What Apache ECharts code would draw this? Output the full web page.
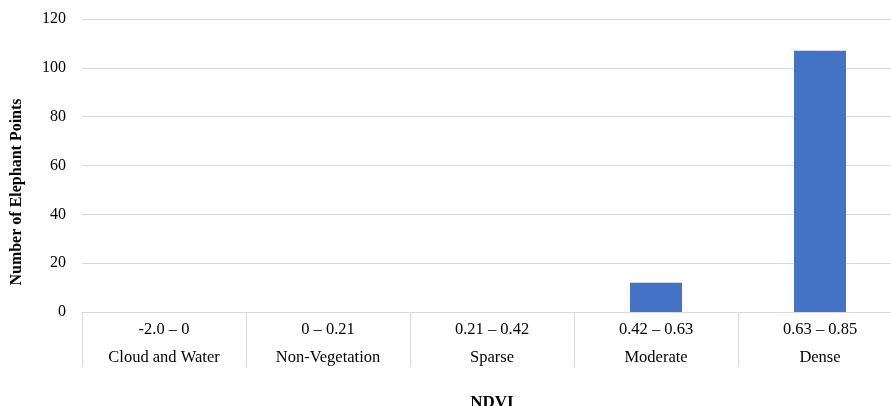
<!DOCTYPE html>
<html>
<head>
<meta charset="utf-8">
<script src="https://cdn.jsdelivr.net/npm/echarts@6/dist/echarts.min.js"></script>
<style>
html,body{margin:0;padding:0;background:#fff;}
#chart{width:891px;height:406px;}
</style>
</head>
<body>
<div id="chart"></div>
<script>
const ranges = ['-2.0 \u2013 0', '0 \u2013 0.21', '0.21 \u2013 0.42', '0.42 \u2013 0.63', '0.63 \u2013 0.85'];
const classes = ['Cloud and Water', 'Non-Vegetation', 'Sparse', 'Moderate', 'Dense'];
const counts = [0, 0, 0, 12, 107];
const yTicks = { min: 0, max: 120, interval: 20 };

const categories = ranges.map((r, i) => r + '\n' + classes[i]);
const font = 'Liberation Serif, Times New Roman, serif';

const chart = echarts.init(document.getElementById('chart'), null, { renderer: 'canvas' });
chart.setOption({
  animation: false,
  backgroundColor: '#fff',
  grid: { left: 82, top: 19, width: 820, height: 293, containLabel: false, outerBoundsMode: 'none' },
  xAxis: {
    type: 'category',
    data: categories,
    boundaryGap: true,
    name: 'NDVI',
    nameLocation: 'middle',
    nameGap: 82,
    nameTextStyle: { fontFamily: font, fontSize: 17, fontWeight: 'bold', color: '#000' },
    axisLine: { show: true, lineStyle: { color: '#d9d9d9', width: 1 } },
    axisTick: { show: true, length: 55, lineStyle: { color: '#d9d9d9', width: 1 } },
    axisLabel: { fontFamily: font, fontSize: 16.5, color: '#000', lineHeight: 28, margin: 4, interval: 0 }
  },
  yAxis: {
    type: 'value',
    min: yTicks.min,
    max: yTicks.max,
    interval: yTicks.interval,
    axisLine: { show: false },
    axisTick: { show: false },
    axisLabel: { fontFamily: font, fontSize: 16, color: '#000', margin: 16 },
    splitLine: { lineStyle: { color: '#d9d9d9', width: 1 } }
  },
  graphic: [{
    type: 'text',
    x: 17, y: 192,
    rotation: Math.PI / 2,
    style: {
      text: 'Number of Elephant Points',
      font: 'bold 16px ' + font,
      fill: '#000',
      align: 'center',
      verticalAlign: 'middle'
    }
  }],
  series: [{
    type: 'bar',
    data: counts,
    barWidth: 52,
    itemStyle: { color: '#4472C4' }
  }]
});
</script>
</body>
</html>
